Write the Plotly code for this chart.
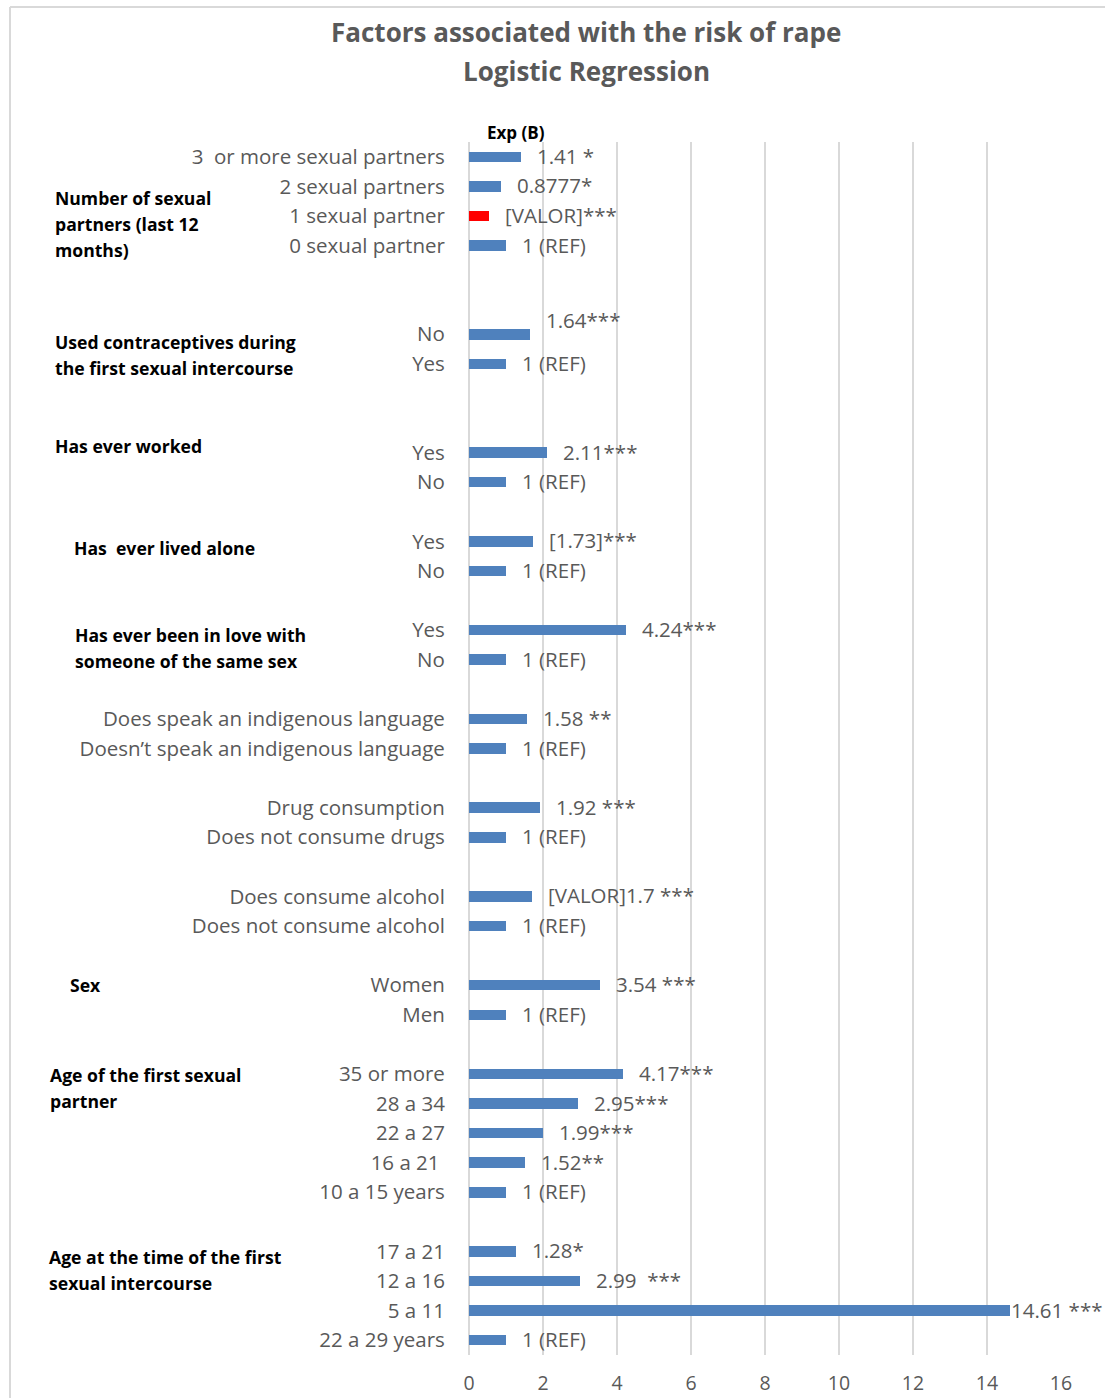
import plotly.graph_objects as go

# ---------------- data ----------------
categories = [
    "3  or more sexual partners", "2 sexual partners", "1 sexual partner", "0 sexual partner",
    None, None,
    "No", "Yes",
    None, None,
    "Yes", "No",
    None,
    "Yes", "No",
    None,
    "Yes", "No",
    None,
    "Does speak an indigenous language", "Doesn’t speak an indigenous language",
    None,
    "Drug consumption", "Does not consume drugs",
    None,
    "Does consume alcohol", "Does not consume alcohol",
    None,
    "Women", "Men",
    None,
    "35 or more", "28 a 34", "22 a 27", "16 a 21 ", "10 a 15 years",
    None,
    "17 a 21", "12 a 16", "5 a 11", "22 a 29 years",
]
values = [
    1.41, 0.8777, 0.54, 1,
    None, None,
    1.64, 1,
    None, None,
    2.11, 1,
    None,
    1.73, 1,
    None,
    4.24, 1,
    None,
    1.58, 1,
    None,
    1.92, 1,
    None,
    1.7, 1,
    None,
    3.54, 1,
    None,
    4.17, 2.95, 1.99, 1.52, 1,
    None,
    1.28, 2.99, 14.61, 1,
]
bar_labels = [
    "1.41 *", "0.8777*", "[VALOR]***", "1 (REF)",
    None, None,
    "1.64***", "1 (REF)",
    None, None,
    "2.11***", "1 (REF)",
    None,
    "[1.73]***", "1 (REF)",
    None,
    "4.24***", "1 (REF)",
    None,
    "1.58 **", "1 (REF)",
    None,
    "1.92 ***", "1 (REF)",
    None,
    "[VALOR]1.7 ***", "1 (REF)",
    None,
    "3.54 ***", "1 (REF)",
    None,
    "4.17***", "2.95***", "1.99***", "1.52**", "1 (REF)",
    None,
    "1.28*", "2.99  ***", "14.61 ***", "1 (REF)",
]
highlight_label = "[VALOR]***"
group_titles = [
    "Number of sexual<br>partners (last 12<br>months)",
    "Used contraceptives during<br>the first sexual intercourse",
    "Has ever worked",
    "Has  ever lived alone",
    "Has ever been in love with<br>someone of the same sex",
    "Sex",
    "Age of the first sexual<br>partner",
    "Age at the time of the first<br>sexual intercourse",
]
x_ticks = [0, 2, 4, 6, 8, 10, 12, 14, 16]
title_lines = ["Factors associated with the risk of rape", "Logistic Regression"]
axis_caption = "Exp (B)"

# ---------------- layout helpers ----------------
W, H = 1105, 1398
PL, PR, PT, PB = 469, 1061, 142, 1355  # plot area in pixels
FONT = "'Open Sans', Lato, Arial, sans-serif"
GRAY = "#595959"
BLUE = "#4f81bd"


def px_x(p):
    return (p - PL) / (PR - PL)


def px_y(p):
    return 1 - (p - PT) / (PB - PT)


rows = list(range(len(categories)))
bar_y = [r for r, v in zip(rows, values) if v is not None]
bar_x = [v for v in values if v is not None]
bar_lab = [l for l, v in zip(bar_labels, values) if v is not None]
colors = ["#ff0000" if l == highlight_label else BLUE for l in bar_lab]

fig = go.Figure()
fig.add_trace(go.Bar(
    x=bar_x, y=bar_y, orientation="h", width=0.355,
    marker=dict(color=colors, line=dict(width=0)),
    hoverinfo="x+y", showlegend=False,
))

annotations = []
# bar value labels
for y, x, lab in zip(bar_y, bar_x, bar_lab):
    xs, ys = 14, 1
    if x > 10:
        xs = -1
    if lab == "1.64***":
        ys = 14
    annotations.append(dict(
        x=x, y=y, xref="x", yref="y", text=lab, showarrow=False,
        xanchor="left", yanchor="middle", xshift=xs, yshift=ys,
        font=dict(family=FONT, size=20.5, color=GRAY),
    ))

# group titles (pixel positions: left x, center y of the first line)
group_pos = [(55, 198), (55, 342), (55, 446), (74, 548), (75, 635),
             (70, 985), (50, 1075), (49, 1257)]
LINE_H = 26
for t, (gx, gy) in zip(group_titles, group_pos):
    for i, line in enumerate(t.split("<br>")):
        annotations.append(dict(
            x=px_x(gx - 2), y=px_y(gy + i * LINE_H), xref="paper", yref="paper",
            text=line, showarrow=False, xanchor="left", yanchor="middle",
            align="left",
            font=dict(family=FONT, size=17.6, color="#000000", weight="bold"),
        ))

# title lines
for line, ty in zip(title_lines, [32, 71]):
    annotations.append(dict(
        x=px_x(586), y=px_y(ty), xref="paper", yref="paper", text=line,
        showarrow=False, xanchor="center", yanchor="middle",
        font=dict(family=FONT, size=26, color=GRAY, weight="bold"),
    ))

# axis caption
annotations.append(dict(
    x=px_x(516), y=px_y(132), xref="paper", yref="paper", text=axis_caption,
    showarrow=False, xanchor="center", yanchor="middle",
    font=dict(family=FONT, size=17, color="#000000", weight="bold"),
))

shapes = [
    # chart area border (left and top)
    dict(type="line", xref="paper", yref="paper",
         x0=px_x(10), x1=px_x(10), y0=px_y(7), y1=px_y(1400),
         line=dict(color="#d9d9d9", width=2)),
    dict(type="line", xref="paper", yref="paper",
         x0=px_x(10), x1=px_x(1110), y0=px_y(7), y1=px_y(7),
         line=dict(color="#d9d9d9", width=2)),
]

fig.update_layout(
    width=W, height=H,
    margin=dict(l=PL, r=W - PR, t=PT, b=H - PB, pad=0, autoexpand=False),
    paper_bgcolor="white", plot_bgcolor="white",
    bargap=0,
    annotations=annotations,
    shapes=shapes,
    font=dict(family=FONT, color=GRAY),
    xaxis=dict(
        range=[0, 16], tickvals=x_ticks, ticktext=[str(t) for t in x_ticks],
        showgrid=True, gridcolor="#d9d9d9", gridwidth=1.5,
        zeroline=True, zerolinecolor="#d9d9d9", zerolinewidth=1.5,
        showline=False, ticks="outside", ticklen=11, tickcolor="rgba(0,0,0,0)",
        tickfont=dict(family=FONT, size=19.5, color=GRAY),
        automargin=False, fixedrange=True,
    ),
    yaxis=dict(
        range=[len(categories) - 0.5, -0.5],
        tickvals=[r for r, c in zip(rows, categories) if c is not None],
        ticktext=[c for c in categories if c is not None],
        showgrid=False, zeroline=False, showline=False,
        ticks="outside", ticklen=19, tickcolor="rgba(0,0,0,0)",
        tickfont=dict(family=FONT, size=20.5, color=GRAY),
        automargin=False, fixedrange=True,
    ),
)

fig.write_html(
    "out.html",
    config={"responsive": False, "displayModeBar": False},
    post_script="document.body.style.margin='0';document.body.style.overflow='hidden';",
)
